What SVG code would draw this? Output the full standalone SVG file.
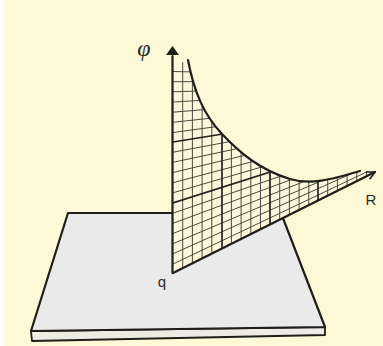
<svg xmlns="http://www.w3.org/2000/svg" width="383" height="346" viewBox="0 0 383 346">
<style>
.edge{fill:none;stroke:#1e1e1a;stroke-width:2.2;stroke-linejoin:round;stroke-linecap:round}
.fine{fill:none;stroke:#4a4a3e;stroke-width:1}
.major{fill:none;stroke:#24241f;stroke-width:1.7}
.lbl{font-family:"Liberation Sans",Arial,sans-serif;font-size:15px;fill:#2a2a2a}
.phi{font-family:"Liberation Serif","Times New Roman",serif;font-style:italic;font-size:24px;fill:#2a2a2a}
</style>
<defs>
<linearGradient id="lw" x1="0" x2="1" y1="0" y2="0">
<stop offset="0" stop-color="#ffffff"/>
<stop offset="1" stop-color="#fdf8d6" stop-opacity="0"/>
</linearGradient>
<clipPath id="surfClip">
<path d="M173,273 L173,66 L188,60 C194,92 204,115 222,134 C240,153 260,170 290,179 C310,185 330,180 360,171 L376,172 Z"/>
</clipPath>
<marker id="openArrow" viewBox="0 0 10 10" refX="9" refY="5" markerWidth="10" markerHeight="10" markerUnits="userSpaceOnUse" orient="auto">
<path d="M1,1 L9,5 L1,9" fill="none" stroke="#1e1e1a" stroke-width="1.6"/>
</marker>
</defs>
<rect width="383" height="346" fill="#fdf8d6"/>
<rect width="12" height="346" fill="url(#lw)"/>

<g id="plane">
<path d="M31,331 L325,327 L325,335 L32,341 Z" fill="#eeece2" stroke="#1e1e1a" stroke-width="1.8" stroke-linejoin="round"/>
<path d="M68,213 L281,213 L325,327 L31,331 Z" fill="#eaeaea" stroke="#1e1e1a" stroke-width="2.2" stroke-linejoin="round"/>
</g>

<g id="surface">
<path d="M173,273 L173,66 L188,60 C194,92 204,115 222,134 C240,153 260,170 290,179 C310,185 330,180 360,171 L376,172 Z" fill="#fbf6dc"/>
<g clip-path="url(#surfClip)">
<g class="fine">
<path d="M182.7,50V280M192.4,50V280M202.1,50V280M211.8,50V280M231.4,50V280M241.1,50V280M250.8,50V280M260.5,50V280M279.7,50V280M289.4,50V280M299.1,50V280M308.8,50V280M327.7,50V280M337.4,50V280M347.1,50V280M356.8,50V280M366.5,50V280"/>
<path d="M173,71.5L380,76.0M173,81.7L380,80.8M173,91.8L380,85.5M173,102L380,90.2M173,112.2L380,95M173,122.3L380,99.7M173,132.5L380,104.4M173,152.2L380,113.6M173,162.3L380,118.3M173,172.5L380,123M173,182.7L380,127.8M173,192.8L380,132.5M173,213.2L380,141.9M173,223.3L380,146.7M173,233.5L380,151.4M173,243.7L380,156.1M173,253.8L380,160.8M173,264L380,165.6"/>
</g>
<g class="major">
<path d="M222,120V252M270,160V230M318,170V205"/>
<path d="M173,142L380,108.8M173,203L380,137.2"/>
</g>
</g>
<path class="edge" d="M188,60 C194,92 204,115 222,134 C240,153 260,170 290,179 C310,185 330,180 360,171"/>
</g>

<g id="connectors">
<path class="edge" d="M172.5,273 L172.5,56"/>
<path d="M172.5,46 L179,55 L166,55 Z" fill="#1e1e1a"/>
<path class="edge" d="M173,273 L375,172" marker-end="url(#openArrow)"/>
</g>

<g id="labels">
<text class="phi" x="144" y="56" text-anchor="middle">φ</text>
<text class="lbl" x="162" y="287" text-anchor="middle">q</text>
<text class="lbl" x="371" y="205" text-anchor="middle">R</text>
</g>
</svg>
